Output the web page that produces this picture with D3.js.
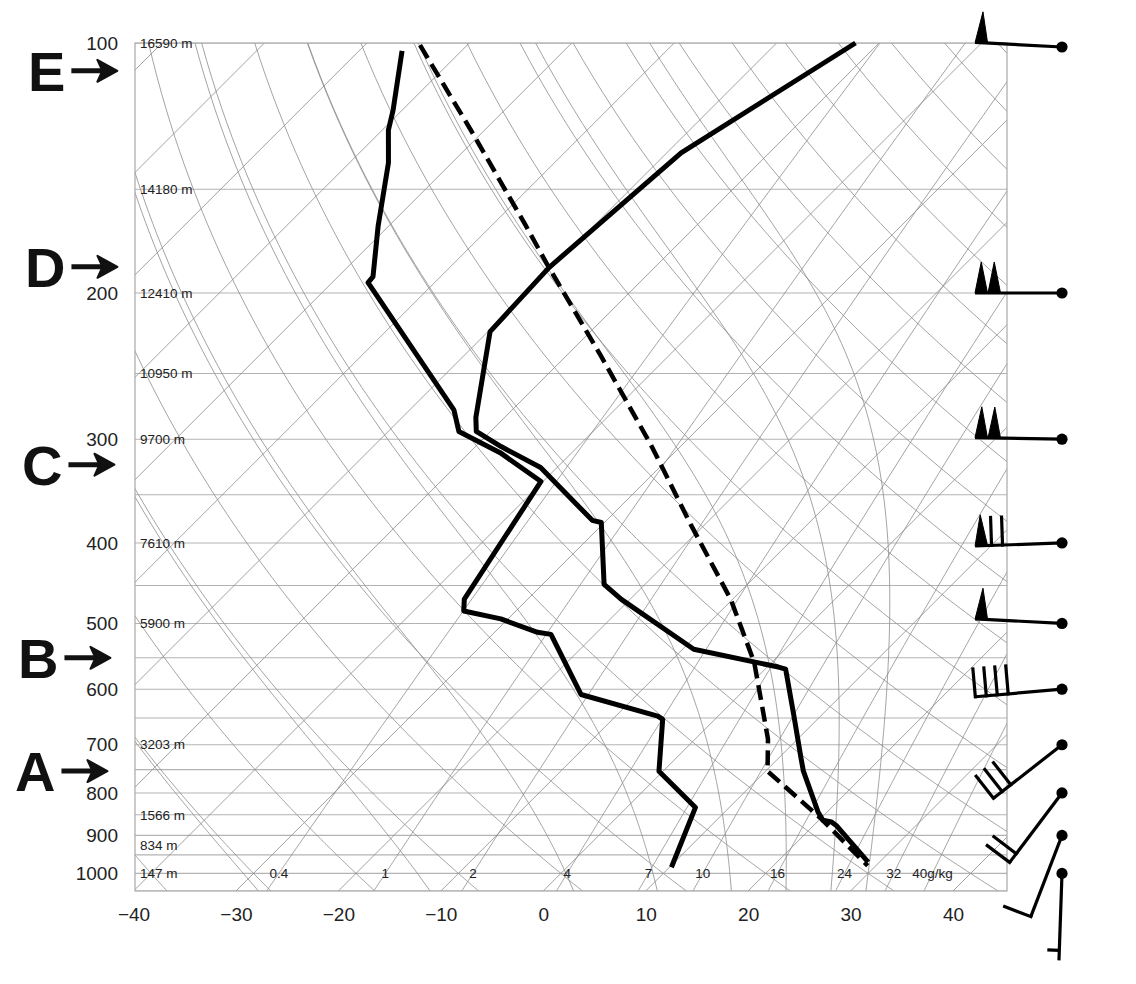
<!DOCTYPE html>
<html><head><meta charset="utf-8">
<script src="https://cdn.jsdelivr.net/npm/d3@7/dist/d3.min.js"></script>
<style>body{margin:0;background:#fff}svg{display:block}</style>
</head><body>
<svg id="c" width="1136" height="984"></svg>
<script>
// ---------------- data ----------------
const pressureTicks = [100,200,300,400,500,600,700,800,900,1000];
const gridPressures = [100,150,200,250,300,350,400,450,500,550,600,650,700,750,800,850,900,950,1000,1050];
const heightP = [100,150,200,250,300,400,500,700,850,925,1000];
const heightLabels = ["16590 m","14180 m","12410 m","10950 m","9700 m","7610 m","5900 m","3203 m","1566 m","834 m","147 m"];
const tempTicks = [-40,-30,-20,-10,0,10,20,30,40];
const tempTickLabels = ["\u221240","\u221230","\u221220","\u221210","0","10","20","30","40"];
const isotherms = [-120,-110,-100,-90,-80,-70,-60,-50,-40,-30,-20,-10,0,10,20,30,40];
const dryAdiabats = [-40,-30,-20,-10,0,10,20,30,40,50,60,70,80,90,100,110,120,130,140,150,160,170,180];
const moistAdiabats = [-31,-14,0.5,9,16.5,22,26.5,30];
const mixingRatios = [0.4,1,2,4,7,10,16,24,32,40];
const mixingLabels = ["0.4","1","2","4","7","10","16","24","32","40g/kg"];

const tempP = [100,135.6,186.4,222.6,282.5,293.6,306.2,324.5,375.7,378,448.6,467.4,537.2,564.3,567.5,646.5,728.3,753.2,843.2,863.1,867,875.4,969.3];
const tempT = [-52.3,-58.6,-60.3,-59.8,-52.8,-51.4,-47.5,-41.6,-31.4,-30.3,-24.0,-20.9,-8.9,1.1,2.0,7.4,12.3,13.7,19.1,20.4,21.4,22.2,28.9];

const dewP = [102.2,120.4,127.3,139.4,166.3,191.1,194.3,276.5,293.6,311.4,337.3,467.4,483,493.8,512.5,515.4,608.9,646.5,652.3,753.2,832.8,983.2];
const dewT = [-95.8,-90.9,-89.4,-86.2,-81.0,-76.6,-76.5,-55.7,-53.1,-47.0,-40.2,-36.2,-35.1,-30.7,-25.8,-24.3,-15.5,-5.9,-5.1,-0.4,6.7,10.2];

const parcelP = [100.6,127.2,165.5,186.4,237.3,304.4,379.9,467.4,557.3,688.9,753.2,859.6,978.9];
const parcelT = [-94.6,-81.4,-66.8,-60.3,-46.8,-33.1,-21.4,-10.2,-1.7,7.1,10.2,20.1,29.2];

const windP   = [100,200,300,400,500,600,700,800,900,1000];
const windDir = [273,270,271,268,273,265,232,217,201,182];
const windSpd = [50,100,100,70,50,40,30,20,10,5];

const markerLetters = ["E","D","C","B","A"];
const markerP = [108,186,322,550,753];

// ---------------- layout ----------------
const W=1136, H=984;
const L=135, R=1007, T0=43, B=891;
const svg = d3.select("#c");
svg.append("rect").attr("width",W).attr("height",H).attr("fill","#fff");

const y = d3.scaleLog().domain([1050,100]).range([B,T0]);
const x = d3.scaleLinear().domain([-40,40]).range([133.5,953]);
const sx = (t,p) => x(t) + (B - y(p));
const FONT = "'Liberation Sans', Arial, Helvetica, sans-serif";

svg.append("clipPath").attr("id","clip").append("rect")
  .attr("x",L).attr("y",T0).attr("width",R-L).attr("height",B-T0);

const grid = svg.append("g").attr("clip-path","url(#clip)");
const line = d3.line().x(d=>sx(d[1],d[0])).y(d=>y(d[0]));
const pSamples = d3.range(1050, 99, -5);

// horizontal isobars
grid.selectAll("line.isobar").data(gridPressures).join("line")
  .attr("x1",L).attr("x2",R).attr("y1",d=>y(d)).attr("y2",d=>y(d))
  .attr("stroke","#b3b3b3").attr("stroke-width",1.1);

const gridStyle = sel => sel.attr("fill","none").attr("stroke","#8c8c8c").attr("stroke-width",0.8);

// isotherms
grid.selectAll("path.iso").data(isotherms).join("path")
  .attr("d",t=>line([[1050,t],[100,t]])).call(gridStyle);

// dry adiabats
const dryT = (th,p) => (th+273.15)*Math.pow(p/1000,0.2857)-273.15;
grid.selectAll("path.dry").data(dryAdiabats).join("path")
  .attr("d",th=>line(pSamples.map(p=>[p,dryT(th,p)]))).call(gridStyle);

// moist adiabats (pseudo-adiabatic integration from 1000 hPa)
const es = tc => 6.112*Math.exp(17.67*tc/(tc+243.5));
function dTdp(Tk,p){
  const Rd=287.04, Cp=1005.7, Lv=2.501e6, eps=0.622;
  const e=es(Tk-273.15), rs=eps*e/(p-e);
  return (Rd*Tk+Lv*rs)/(Cp+Lv*Lv*rs*eps/(Rd*Tk*Tk))/p;
}
function moistPath(tw){
  const pts=[];
  let Tk=tw+273.15, p=1000;
  let Td=Tk, pd=1000;
  while(pd<1050){ const h=1; const k1=dTdp(Td,pd); const k2=dTdp(Td+k1*h/2,pd+h/2); Td+=k2*h; pd+=h; }
  pts.push([1050,Td-273.15]);
  pts.push([1000,tw]);
  while(p>100){ const h=-1; const k1=dTdp(Tk,p); const k2=dTdp(Tk+k1*h/2,p+h/2); Tk+=k2*h; p+=h; if(p%5===0) pts.push([p,Tk-273.15]); }
  return pts;
}
grid.selectAll("path.moist").data(moistAdiabats).join("path")
  .attr("d",tw=>line(moistPath(tw))).call(gridStyle);

// mixing ratio lines
const mixTd = (w,p) => { const e=w*p/(622+w); const l=Math.log(e/6.112); return 243.5*l/(17.67-l); };
grid.selectAll("path.mix").data(mixingRatios).join("path")
  .attr("d",w=>line(pSamples.map(p=>[p,mixTd(w,p)]))).call(gridStyle);

// frame
svg.append("rect").attr("x",L).attr("y",T0).attr("width",R-L).attr("height",B-T0)
  .attr("fill","none").attr("stroke","#a8a8a8").attr("stroke-width",1.2);

// height labels
svg.selectAll("text.h").data(heightP).join("text")
  .attr("x",140).attr("y",d=>y(d)).attr("dy","0.35em")
  .attr("font-family",FONT).attr("font-size",13.5).attr("fill","#222")
  .text((d,i)=>heightLabels[i]);

// mixing ratio labels
svg.selectAll("text.mr").data(mixingRatios).join("text")
  .attr("x",w=>sx(mixTd(w,1000),1000)).attr("y",y(1000)).attr("dy","0.35em")
  .attr("text-anchor","middle")
  .attr("font-family",FONT).attr("font-size",13.5).attr("fill","#222")
  .text((d,i)=>mixingLabels[i]);

// pressure axis
const yAxis = d3.axisLeft(y).tickValues(pressureTicks).tickSize(0).tickPadding(0).tickFormat(d3.format("d"));
const gy = svg.append("g").attr("transform","translate(118,0)").call(yAxis);
gy.select(".domain").remove();
gy.selectAll("text").attr("font-family",FONT).attr("font-size",19).attr("fill","#222");

// temperature axis
const xAxis = d3.axisBottom(x).tickValues(tempTicks).tickSize(0).tickPadding(0).tickFormat((d,i)=>tempTickLabels[i]);
const gx = svg.append("g").attr("transform","translate(0,907)").call(xAxis);
gx.select(".domain").remove();
gx.selectAll("text").attr("font-family",FONT).attr("font-size",19).attr("fill","#222");

// profiles
svg.append("clipPath").attr("id","clip2").append("rect").attr("x",L).attr("y",T0-5).attr("width",R-L).attr("height",B-T0+5);
const prof = svg.append("g").attr("clip-path","url(#clip2)");
const profLine = d3.line().x(d=>sx(d[1],d[0])).y(d=>y(d[0]));
prof.append("path").datum(parcelP.map((p,i)=>[p,parcelT[i]])).attr("d",profLine)
  .attr("fill","none").attr("stroke","#000").attr("stroke-width",4.5).attr("stroke-dasharray","15,7");
prof.append("path").datum(tempP.map((p,i)=>[p,tempT[i]])).attr("d",profLine)
  .attr("fill","none").attr("stroke","#000").attr("stroke-width",5).attr("stroke-linejoin","round");
prof.append("path").datum(dewP.map((p,i)=>[p,dewT[i]])).attr("d",profLine)
  .attr("fill","none").attr("stroke","#000").attr("stroke-width",5).attr("stroke-linejoin","round");

// wind barbs
const barbs = svg.append("g");
const STATION_X = 1062, STAFF = 87;
windP.forEach((p,i)=>{
  const cx=STATION_X, cy=y(p) + (i===0 ? 4 : 0);
  const a=windDir[i]*Math.PI/180;
  const s=[Math.sin(a),-Math.cos(a)];
  const n=[-s[1],s[0]];
  const tip=[cx+s[0]*STAFF, cy+s[1]*STAFF];
  const P=d=>[tip[0]-s[0]*d, tip[1]-s[1]*d];
  const g=barbs.append("g");
  g.append("line").attr("x1",cx).attr("y1",cy).attr("x2",tip[0]).attr("y2",tip[1])
    .attr("stroke","#000").attr("stroke-width",3.2);
  g.append("circle").attr("cx",cx).attr("cy",cy).attr("r",5.6).attr("fill","#000");
  let rem=Math.round(windSpd[i]/5)*5;
  const pen=Math.floor(rem/50); rem-=pen*50;
  const full=Math.floor(rem/10); rem-=full*10;
  const half=rem>=5;
  let pos=0;
  for(let k=0;k<pen;k++){
    const a1=P(pos), a2=P(pos+12.5), m=P(pos+6.25);
    const ap=[m[0]+n[0]*31, m[1]+n[1]*31];
    g.append("path").attr("d",`M${a1}L${ap}L${a2}Z`).attr("fill","#000").attr("stroke","#000").attr("stroke-width",1);
    pos+=13;
  }
  if(pen>0) pos+=3.5;
  for(let k=0;k<full;k++){
    const b=P(pos);
    g.append("line").attr("x1",b[0]).attr("y1",b[1]).attr("x2",b[0]+n[0]*28).attr("y2",b[1]+n[1]*28)
      .attr("stroke","#000").attr("stroke-width",3.2).attr("stroke-linecap","square");
    pos+=11;
  }
  if(half){
    if(pos===0) pos=10;
    const b=P(pos);
    g.append("line").attr("x1",b[0]).attr("y1",b[1]).attr("x2",b[0]+n[0]*12).attr("y2",b[1]+n[1]*12)
      .attr("stroke","#000").attr("stroke-width",3.2);
  }
});

// level markers with arrows
const markerX = [28,25,22,18,15];
const mk = svg.append("g");
markerLetters.forEach((lt,i)=>{
  const cy=y(markerP[i]);
  const t=mk.append("text").attr("x",markerX[i]).attr("y",cy).attr("dy","0.36em")
    .attr("font-family",FONT).attr("font-weight","bold").attr("font-size",56).attr("fill","#111").text(lt);
  const bb=t.node().getBBox();
  const x1=bb.x+bb.width+6, x2=x1+46;
  mk.append("line").attr("x1",x1).attr("y1",cy).attr("x2",x2-10).attr("y2",cy)
    .attr("stroke","#111").attr("stroke-width",5);
  mk.append("path").attr("d",`M${x2},${cy}L${x2-20},${cy-11}L${x2-15},${cy}L${x2-20},${cy+11}Z`)
    .attr("fill","#111").attr("stroke","#111").attr("stroke-width",2).attr("stroke-linejoin","round");
});
</script>
</body></html>
